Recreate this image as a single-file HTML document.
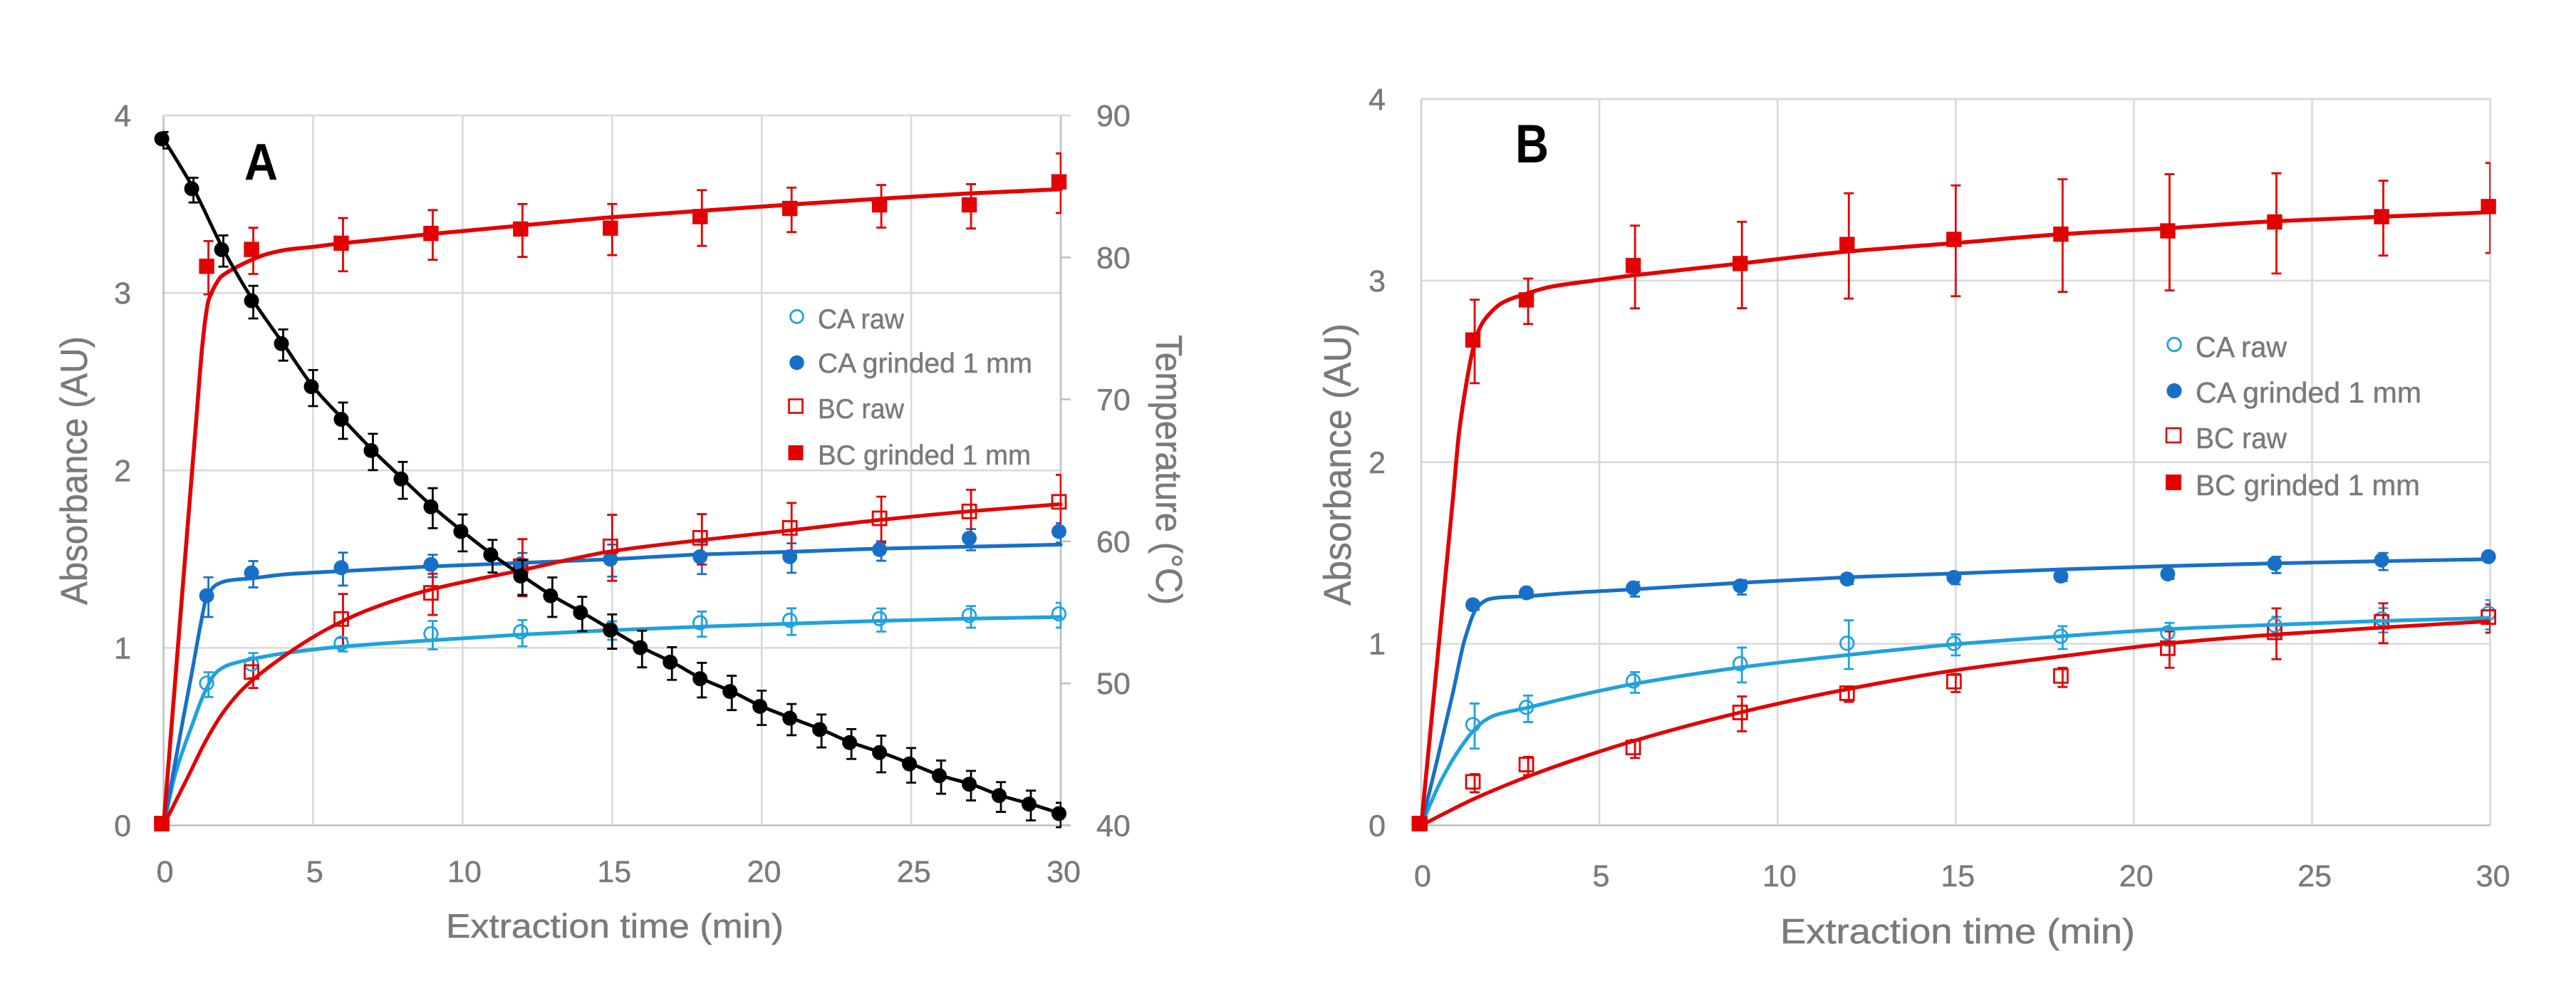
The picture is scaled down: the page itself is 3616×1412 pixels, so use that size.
<!DOCTYPE html>
<html lang="en">
<head>
<meta charset="utf-8">
<title>Absorbance and temperature versus extraction time</title>
<style>
html,body{margin:0;padding:0;background:#fff;}
svg{display:block;}
text{font-family:"Liberation Sans",sans-serif;fill:#7a7a7a;stroke:#7a7a7a;stroke-width:0.5;}
</style>
</head>
<body>
<svg id="figure" xmlns="http://www.w3.org/2000/svg" width="3616" height="1412" viewBox="0 0 3616 1412">
<rect x="0" y="0" width="3616" height="1412" fill="#ffffff"/>
<defs>
<clipPath id="clip-a"><rect x="228" y="150" width="1262" height="1020"/></clipPath>
<clipPath id="clip-b"><rect x="1993" y="130" width="1503" height="1040"/></clipPath>
</defs>
<g id="panel-a"></g>
<g id="panel-b"></g>

<text x="343" y="252" font-size="72" font-weight="bold" style="fill:#000;stroke:none" textLength="47" lengthAdjust="spacingAndGlyphs">A</text>
<text x="2127" y="228" font-size="76" font-weight="bold" style="fill:#000;stroke:none" textLength="47" lengthAdjust="spacingAndGlyphs">B</text>

<text x="626" y="1316" font-size="47" textLength="474" lengthAdjust="spacingAndGlyphs">Extraction time (min)</text>
<text transform="translate(122,849) rotate(-90)" font-size="53" textLength="377" lengthAdjust="spacingAndGlyphs">Absorbance (AU)</text>
<text transform="translate(1623,470) rotate(90)" font-size="52" textLength="379" lengthAdjust="spacingAndGlyphs">Temperature (°C)</text>
<text x="2499" y="1324" font-size="49" textLength="498" lengthAdjust="spacingAndGlyphs">Extraction time (min)</text>
<text transform="translate(1896,850) rotate(-90)" font-size="54" textLength="396" lengthAdjust="spacingAndGlyphs">Absorbance (AU)</text>

<g>
<g><circle cx="1118.5" cy="444.3" r="9" fill="#fff" stroke="#1fa2dd" stroke-width="2.8"/><text x="1148" y="461" font-size="39" textLength="121" lengthAdjust="spacingAndGlyphs">CA raw</text></g>
<g><circle cx="1118.5" cy="509" r="10.3" fill="#1770c8"/><text x="1148" y="523" font-size="39" textLength="301" lengthAdjust="spacingAndGlyphs">CA grinded 1 mm</text></g>
<g><rect x="1107.5" y="560.5" width="19" height="19" fill="#fff" stroke="#e30000" stroke-width="2.6"/><text x="1148" y="587" font-size="39" textLength="121" lengthAdjust="spacingAndGlyphs">BC raw</text></g>
<g><rect x="1106.5" y="625" width="21" height="21" fill="#e30000"/><text x="1148" y="652" font-size="39" textLength="299" lengthAdjust="spacingAndGlyphs">BC grinded 1 mm</text></g>
</g>
<g>
<g><circle cx="3052" cy="483.5" r="9.3" fill="#fff" stroke="#1fa2dd" stroke-width="2.8"/><text x="3082" y="501" font-size="41" textLength="128" lengthAdjust="spacingAndGlyphs">CA raw</text></g>
<g><circle cx="3052" cy="548.5" r="10.6" fill="#1770c8"/><text x="3082" y="565" font-size="41" textLength="317" lengthAdjust="spacingAndGlyphs">CA grinded 1 mm</text></g>
<g><rect x="3041" y="601" width="20" height="20" fill="#fff" stroke="#e30000" stroke-width="2.6"/><text x="3082" y="629" font-size="41" textLength="128" lengthAdjust="spacingAndGlyphs">BC raw</text></g>
<g><rect x="3040" y="666" width="22" height="22" fill="#e30000"/><text x="3082" y="695" font-size="41" textLength="315" lengthAdjust="spacingAndGlyphs">BC grinded 1 mm</text></g>
</g>

<script>
// ---------- shared tick labels and sample times ----------
var timeTicks = [0, 5, 10, 15, 20, 25, 30];
var absorbanceTicks = [0, 1, 2, 3, 4];
var temperatureTicks = [40, 50, 60, 70, 80, 90];
var sampleTimes = [0, 1.5, 3, 6, 9, 12, 15, 18, 21, 24, 27, 30];
var sampleTimesLate = [0, 3, 6, 9, 12, 15, 18, 21, 24, 27, 30];

// ---------- panel A: temperature ----------
var temperatureTimes = [0,1,2,3,4,5,6,7,8,9,10,11,12,13,14,15,16,17,18,19,20,21,22,23,24,25,26,27,28,29,30];
var temperatureValues = [88.35,84.84,80.55,76.95,73.93,70.9,68.6,66.4,64.4,62.44,60.7,59.06,57.56,56.17,54.99,53.75,52.52,51.5,50.33,49.43,48.38,47.55,46.75,45.83,45.13,44.33,43.5,42.9,42.1,41.5,40.83];
var temperatureErrors = [0.58,0.87,1.1,1.15,1.1,1.27,1.28,1.28,1.3,1.41,1.3,1.15,1.23,1.39,1.21,1.21,1.29,1.15,1.22,1.21,1.21,1.1,1.16,1.05,1.29,1.22,1.17,1.04,1.05,1.05,0.86];

// ---------- panel A: absorbance markers ----------
var caRawA = [0,0.801,0.909,1.026,1.08,1.091,1.106,1.142,1.156,1.165,1.183,1.192];
var caRawErrA = [0,0.07,0.07,0.038,0.08,0.074,0.052,0.071,0.075,0.065,0.061,0.07];
var caGrindA = [0,1.294,1.423,1.452,1.47,1.473,1.5,1.514,1.514,1.554,1.618,1.656];
var caGrindErrA = [0,0.112,0.074,0.093,0.063,0.07,0.09,0.09,0.083,0.055,0.06,0.055];
var bcRawA = [0,0.864,1.163,1.31,1.46,1.572,1.62,1.676,1.73,1.769,1.823];
var bcRawErrA = [0,0.082,0.149,0.116,0.161,0.186,0.142,0.149,0.13,0.13,0.16];
var bcGrindA = [0,3.15,3.245,3.28,3.335,3.36,3.365,3.43,3.476,3.496,3.496,3.626];
var bcGrindErrA = [0,0.15,0.13,0.15,0.14,0.149,0.144,0.157,0.125,0.12,0.125,0.168];

// ---------- panel A: fitted curves ----------
var caRawFitTA = [0,0.41,0.96,1.37,1.78,2.19,3,4.1,5.88,8.96,11.97,15,18,20.9,23.9,26.9,30];
var caRawFitA = [0,0.3,0.568,0.748,0.865,0.905,0.939,0.971,1.006,1.043,1.075,1.1,1.12,1.136,1.152,1.165,1.174];
var caGrindFitTA = [0,0.68,0.96,1.23,1.44,1.78,2.19,3,4.1,5.88,8.96,11.97,15,18,20.9,23.9,26.9,30];
var caGrindFitA = [0,0.622,0.873,1.124,1.285,1.357,1.38,1.393,1.415,1.432,1.459,1.479,1.5,1.527,1.541,1.559,1.57,1.582];
var bcRawFitTA = [0,0.82,1.44,2.05,2.74,4.1,5.47,6.84,8.96,11.97,15,18,20.9,23.9,26.9,30];
var bcRawFitA = [0,0.275,0.485,0.65,0.783,0.962,1.106,1.214,1.33,1.438,1.545,1.608,1.661,1.72,1.769,1.81];
var bcGrindFitTA = [0,0.85,1.09,1.3,1.42,1.505,1.6,1.75,1.915,2.325,3.42,4.1,4.92,5.88,8.96,11.97,15.05,18,20.9,23.9,26.9,30];
var bcGrindFitA = [0,1.78,2.28,2.71,2.88,2.96,3.0,3.05,3.09,3.135,3.217,3.243,3.258,3.278,3.332,3.38,3.427,3.463,3.497,3.53,3.56,3.584];

// ---------- panel B: absorbance markers ----------
var caRawB = [0,0.555,0.65,0.795,0.891,1.003,1.002,1.042,1.06,1.102,1.137,1.168];
var caRawErrB = [0,0.124,0.073,0.057,0.096,0.134,0.058,0.063,0.063,0.055,0.067,0.081];
var caGrindB = [0,1.215,1.281,1.308,1.319,1.357,1.366,1.373,1.385,1.442,1.461,1.48];
var caGrindErrB = [0,0.02,0.02,0.04,0.04,0.02,0.03,0.02,0.02,0.045,0.047,0.02];
var bcRawB = [0,0.24,0.335,0.429,0.622,0.728,0.792,0.823,0.976,1.063,1.121,1.147];
var bcRawErrB = [0,0.05,0.05,0.05,0.096,0.04,0.05,0.053,0.1,0.14,0.11,0.078];
var bcGrindB = [0,2.673,2.894,3.083,3.094,3.199,3.227,3.256,3.274,3.323,3.352,3.408];
var bcGrindErrB = [0,0.23,0.125,0.228,0.238,0.29,0.305,0.31,0.32,0.276,0.206,0.248];

// ---------- panel B: fitted curves ----------
var caRawFitTB = [0,0.54,1,1.46,1.75,2.09,2.96,3.98,5.96,8.95,11.9,14.95,18,20.97,23.96,26.94,29.95];
var caRawFitB = [0,0.24,0.398,0.52,0.573,0.608,0.647,0.696,0.779,0.87,0.937,0.997,1.042,1.081,1.105,1.126,1.142];
var caGrindFitTB = [0,0.43,0.89,1.23,1.58,1.92,2.27,2.96,3.98,5.96,8.95,11.9,14.95,18,20.97,23.96,26.94,29.95];
var caGrindFitB = [0,0.345,0.731,1.03,1.203,1.247,1.256,1.262,1.278,1.3,1.336,1.366,1.387,1.41,1.428,1.443,1.455,1.466];
var bcRawFitTB = [0,1.46,2.83,4.21,5.96,8.95,11.9,14.95,18,20.97,23.96,26.94,29.95];
var bcRawFitB = [0,0.144,0.257,0.355,0.465,0.622,0.748,0.853,0.932,1.002,1.051,1.089,1.124];
var bcGrindFitTB = [0,0.89,1.06,1.29,1.45,1.6,1.8,2.27,2.96,3.64,4.99,6,8.95,11.9,15,18,20.97,23.96,26.94,29.95];
var bcGrindFitB = [0,1.799,2.16,2.46,2.62,2.72,2.79,2.877,2.929,2.966,3.004,3.03,3.094,3.159,3.207,3.256,3.289,3.327,3.352,3.376];

// ---------- colours ----------
var COLOR_CA_RAW = '#1fa2dd';
var COLOR_CA_GRIND = '#1770c8';
var COLOR_BC = '#e30000';
var COLOR_TEMP = '#000000';
var NS = 'http://www.w3.org/2000/svg';
var MARKER_SHIFT = -2.5;
var ERROR_SHIFT_Y = 2;

function make(parent, tag, props, text) {
  var el = document.createElementNS(NS, tag);
  for (var k in props) { el.setAttribute(k, props[k]); }
  if (text !== undefined) { el.textContent = text; }
  parent.appendChild(el);
  return el;
}

function scaleLinear(d0, d1, r0, r1) {
  return function (v) { return r0 + (v - d0) * (r1 - r0) / (d1 - d0); };
}

// Monotone cubic path through the fitted curve points.
function curvePath(xs, ys) {
  var n = xs.length, m = [], d = [], i;
  for (i = 0; i < n - 1; i++) { d.push((ys[i + 1] - ys[i]) / (xs[i + 1] - xs[i])); }
  m.push(d[0]);
  for (i = 1; i < n - 1; i++) { m.push(d[i - 1] * d[i] <= 0 ? 0 : 2 * d[i - 1] * d[i] / (d[i - 1] + d[i])); }
  m.push(d[n - 2]);
  var s = 'M' + xs[0].toFixed(1) + ' ' + ys[0].toFixed(1);
  for (i = 0; i < n - 1; i++) {
    var h = (xs[i + 1] - xs[i]) / 3;
    s += 'C' + (xs[i] + h).toFixed(1) + ' ' + (ys[i] + m[i] * h).toFixed(1) + ' ' +
      (xs[i + 1] - h).toFixed(1) + ' ' + (ys[i + 1] - m[i + 1] * h).toFixed(1) + ' ' +
      xs[i + 1].toFixed(1) + ' ' + ys[i + 1].toFixed(1);
  }
  return s;
}

function drawCurve(parent, name, ts, vs, sx, sy, color, width) {
  var path = make(parent, 'path', {
    d: curvePath(ts.map(sx), vs.map(sy)), fill: 'none', stroke: color,
    'stroke-width': width, 'stroke-linejoin': 'round', 'stroke-linecap': 'round'
  });
  
  
}

function drawErrors(parent, name, ts, vs, es, sx, sy, color, clipId) {
  var group = make(parent, 'g', { 'clip-path': 'url(#' + clipId + ')' });
  
  
  ts.forEach(function (t, i) {
    if (!es[i]) { return; }
    var x = sx(t), y1 = sy(vs[i] + es[i]) + ERROR_SHIFT_Y, y2 = sy(vs[i] - es[i]) + ERROR_SHIFT_Y;
    var bar = make(group, 'path', {
      d: 'M' + x + ' ' + y1 + 'V' + y2 + 'M' + (x - 7) + ' ' + y1 + 'H' + (x + 7) + 'M' + (x - 7) + ' ' + y2 + 'H' + (x + 7),
      fill: 'none', stroke: color, 'stroke-width': 2.8
    });
    
    
  });
}

function drawMarkers(parent, name, ts, vs, sx, sy, color, shape, filled) {
  var group = make(parent, 'g', {});
  
  
  ts.forEach(function (t, i) {
    var x = sx(t) + MARKER_SHIFT, y = sy(vs[i]) - (vs[i] === 0 ? 2.5 : 0), mark;
    var fill = filled ? color : 'none';
    var sw = filled ? 0 : 2.8;
    if (shape === 'circle') {
      mark = make(group, 'circle', { cx: x, cy: y, r: filled ? 10.5 : 9.3, fill: fill, stroke: color, 'stroke-width': sw });
    } else {
      var half = filled ? 10.7 : 9.5;
      mark = make(group, 'rect', { x: x - half, y: y - half, width: 2 * half, height: 2 * half, fill: fill, stroke: color, 'stroke-width': sw });
    }
    
    
  });
}

function drawFrame(parent, L, R, T, B, sx, sy, opts) {
  var grid = make(parent, 'g', { stroke: '#d9d9d9', 'stroke-width': 2.6, fill: 'none' });
  
  
  timeTicks.forEach(function (t) {
    if (t === 0 || (t === 30 && opts.secondary)) { return; }
    var line = make(grid, 'line', { x1: sx(t), x2: sx(t), y1: T, y2: B });
    
    
  });
  absorbanceTicks.forEach(function (v) {
    if (v === 0) { return; }
    var line = make(grid, 'line', { x1: L, x2: R, y1: sy(v), y2: sy(v) });
    
    
  });
  var leftAxis = make(parent, 'line', { x1: L, x2: L, y1: T, y2: B, stroke: opts.leftColor, 'stroke-width': 2.6 });
  
  
  var bottomAxis = make(parent, 'line', { x1: L, x2: R + (opts.secondary ? 14 : 0), y1: B, y2: B, stroke: '#bfbfbf', 'stroke-width': 2.6 });
  
  

  timeTicks.forEach(function (t) {
    var label = make(parent, 'text', {
      x: sx(t) + 2 + (t / 30) * 2, y: opts.xBase, 'font-size': opts.tickSize, 'text-anchor': 'middle'
    }, String(t));
    
    
  });
  absorbanceTicks.forEach(function (v) {
    var label = make(parent, 'text', {
      x: opts.yRight, y: sy(v) + 15, 'font-size': opts.tickSize, 'text-anchor': 'end'
    }, String(v));
    
    
  });
}

// ---------- Panel A ----------
(function () {
  var root = document.getElementById('panel-a');
  var L = 229.6, R = 1489, T = 162, B = 1158.5;
  var sx = scaleLinear(0, 30, L, R);
  var sy = scaleLinear(0, 4, B, T);
  var st = scaleLinear(40, 90, B, T);
  drawFrame(root, L, R, T, B, sx, sy, { secondary: true, leftColor: '#bfbfbf', xBase: 1238, yRight: 184, tickSize: 43 });

  var rightAxis = make(root, 'line', { x1: R, x2: R, y1: T, y2: B, stroke: '#bfbfbf', 'stroke-width': 2.6 });
  
  
  temperatureTicks.forEach(function (v) {
    var tick = make(root, 'line', { x1: R, x2: R + 14, y1: st(v), y2: st(v), stroke: '#bfbfbf', 'stroke-width': 2.6 });
    
    
    var label = make(root, 'text', { x: 1539, y: st(v) + 15, 'font-size': 43 }, String(v));
    
    
  });
  var top = make(root, 'line', { x1: L, x2: R + 14, y1: T, y2: T, stroke: '#d9d9d9', 'stroke-width': 2.6 });
  
  

  drawErrors(root, 'ca-raw-error-bars', sampleTimes, caRawA, caRawErrA, sx, sy, COLOR_CA_RAW, 'clip-a');
  drawErrors(root, 'ca-grinded-error-bars', sampleTimes, caGrindA, caGrindErrA, sx, sy, COLOR_CA_GRIND, 'clip-a');
  drawErrors(root, 'bc-raw-error-bars', sampleTimesLate, bcRawA, bcRawErrA, sx, sy, COLOR_BC, 'clip-a');
  drawErrors(root, 'bc-grinded-error-bars', sampleTimes, bcGrindA, bcGrindErrA, sx, sy, COLOR_BC, 'clip-a');

  drawMarkers(root, 'ca-grinded-markers', sampleTimes, caGrindA, sx, sy, COLOR_CA_GRIND, 'circle', true);
  drawMarkers(root, 'ca-raw-markers', sampleTimes, caRawA, sx, sy, COLOR_CA_RAW, 'circle', false);
  drawMarkers(root, 'bc-raw-markers', sampleTimesLate, bcRawA, sx, sy, COLOR_BC, 'square', false);
  drawMarkers(root, 'bc-grinded-markers', sampleTimes, bcGrindA, sx, sy, COLOR_BC, 'square', true);

  drawCurve(root, 'ca-raw-fit-line', caRawFitTA, caRawFitA, sx, sy, COLOR_CA_RAW, 5.2);
  drawCurve(root, 'ca-grinded-fit-line', caGrindFitTA, caGrindFitA, sx, sy, COLOR_CA_GRIND, 5.2);
  drawCurve(root, 'bc-raw-fit-line', bcRawFitTA, bcRawFitA, sx, sy, COLOR_BC, 5.2);
  drawCurve(root, 'bc-grinded-fit-line', bcGrindFitTA, bcGrindFitA, sx, sy, COLOR_BC, 5.6);

  drawErrors(root, 'temperature-error-bars', temperatureTimes, temperatureValues, temperatureErrors, sx, st, COLOR_TEMP, 'clip-a');
  drawCurve(root, 'temperature-line', temperatureTimes, temperatureValues, sx, st, COLOR_TEMP, 4.8);
  drawMarkers(root, 'temperature-markers', temperatureTimes, temperatureValues, sx, st, COLOR_TEMP, 'circle', true);
  var origin = make(root, 'rect', { x: L - 13, y: B - 12.5, width: 21, height: 20, fill: COLOR_BC });
  
  
})();

// ---------- Panel B ----------
(function () {
  var root = document.getElementById('panel-b');
  var L = 1995, R = 3495.6, T = 139, B = 1158.5;
  var sx = scaleLinear(0, 30, L, R);
  var sy = scaleLinear(0, 4, B, T);
  drawFrame(root, L, R, T, B, sx, sy, { secondary: false, leftColor: '#d0d0d0', xBase: 1244, yRight: 1945, tickSize: 43 });
  var top = make(root, 'line', { x1: L, x2: R, y1: T, y2: T, stroke: '#d9d9d9', 'stroke-width': 2.6 });
  
  

  drawErrors(root, 'ca-raw-error-bars', sampleTimes, caRawB, caRawErrB, sx, sy, COLOR_CA_RAW, 'clip-b');
  drawErrors(root, 'ca-grinded-error-bars', sampleTimes, caGrindB, caGrindErrB, sx, sy, COLOR_CA_GRIND, 'clip-b');
  drawErrors(root, 'bc-raw-error-bars', sampleTimes, bcRawB, bcRawErrB, sx, sy, COLOR_BC, 'clip-b');
  drawErrors(root, 'bc-grinded-error-bars', sampleTimes, bcGrindB, bcGrindErrB, sx, sy, COLOR_BC, 'clip-b');

  drawMarkers(root, 'ca-grinded-markers', sampleTimes, caGrindB, sx, sy, COLOR_CA_GRIND, 'circle', true);
  drawMarkers(root, 'ca-raw-markers', sampleTimes, caRawB, sx, sy, COLOR_CA_RAW, 'circle', false);
  drawMarkers(root, 'bc-raw-markers', sampleTimes, bcRawB, sx, sy, COLOR_BC, 'square', false);
  drawMarkers(root, 'bc-grinded-markers', sampleTimes, bcGrindB, sx, sy, COLOR_BC, 'square', true);

  drawCurve(root, 'ca-raw-fit-line', caRawFitTB, caRawFitB, sx, sy, COLOR_CA_RAW, 5.2);
  drawCurve(root, 'ca-grinded-fit-line', caGrindFitTB, caGrindFitB, sx, sy, COLOR_CA_GRIND, 5.2);
  drawCurve(root, 'bc-raw-fit-line', bcRawFitTB, bcRawFitB, sx, sy, COLOR_BC, 5.2);
  drawCurve(root, 'bc-grinded-fit-line', bcGrindFitTB, bcGrindFitB, sx, sy, COLOR_BC, 5.6);
  var origin = make(root, 'rect', { x: L - 13, y: B - 13, width: 22, height: 20, fill: COLOR_BC });
  
  
})();
</script>
</svg>
</body>
</html>
